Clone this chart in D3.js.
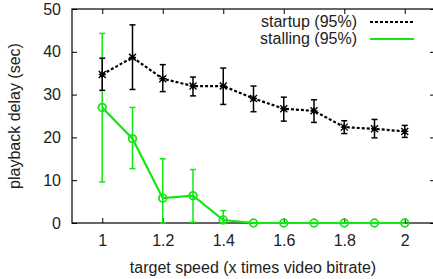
<!DOCTYPE html>
<html lang="en">
<head>
<meta charset="UTF-8">
<title>Playback delay vs target speed</title>
<style>
  html, body { margin: 0; padding: 0; background: #fff; overflow: hidden; }
  svg { display: block; }
  text { font-family: "Liberation Sans", Arial, sans-serif; fill: #222; }
  .tick text { font-size: 16px; fill: #222; }
</style>
<script src="https://d3js.org/d3.v7.min.js"></script>
</head>
<body>
<svg width="433" height="279"></svg>
<script>
// data
var speeds = [1, 1.1, 1.2, 1.3, 1.4, 1.5, 1.6, 1.7, 1.8, 1.9, 2];
var startupMean = [34.7, 38.7, 33.7, 32.0, 32.0, 29.1, 26.7, 26.2, 22.4, 22.0, 21.4];
var startupLow  = [31.0, 31.2, 30.7, 29.7, 27.7, 26.0, 23.8, 23.5, 20.9, 19.9, 20.0];
var startupHigh = [38.5, 46.3, 37.0, 34.1, 36.2, 32.0, 29.4, 28.8, 23.9, 24.2, 22.8];
var stallMean = [27.0, 19.7, 5.8, 6.4, 0.7, 0, 0, 0, 0, 0, 0];
var stallLow  = [9.6, 12.7, 0, 0.2, 0, 0, 0, 0, 0, 0, 0];
var stallHigh = [44.3, 27.0, 15.0, 12.5, 2.9, 0, 0, 0, 0, 0, 0];
var xTicks = [1, 1.2, 1.4, 1.6, 1.8, 2];
var yTicks = [0, 10, 20, 30, 40, 50];

var svg = d3.select("svg");
var plotL = 72, plotR = 435, plotT = 9, plotB = 223;
var green = "#14e614";

var x = d3.scaleLinear().domain([0.9, 2.1]).range([plotL, plotR]);
var y = d3.scaleLinear().domain([0, 50]).range([plotB, plotT]);

// frame
svg.append("rect")
    .attr("x", plotL).attr("y", plotT)
    .attr("width", plotR - plotL).attr("height", plotB - plotT)
    .attr("fill", "none").attr("stroke", "#000").attr("stroke-width", 1.2);

// axes with inward ticks
var gx = svg.append("g").attr("transform", "translate(0," + plotB + ")")
    .call(d3.axisBottom(x).tickValues(xTicks).tickSizeInner(-5).tickSizeOuter(0).tickPadding(12).tickFormat(d3.format("")));
var gxt = svg.append("g").attr("transform", "translate(0," + plotT + ")")
    .call(d3.axisTop(x).tickValues(xTicks).tickSizeInner(-5).tickSizeOuter(0).tickFormat(""));
var gy = svg.append("g").attr("transform", "translate(" + plotL + ",0)")
    .call(d3.axisLeft(y).tickValues(yTicks).tickSizeInner(-5).tickSizeOuter(0).tickPadding(11));
var gyr = svg.append("g").attr("transform", "translate(" + plotR + ",0)")
    .call(d3.axisRight(y).tickValues(yTicks).tickSizeInner(-5).tickSizeOuter(0).tickFormat(""));
[gx, gxt, gy, gyr].forEach(function(g) {
    g.select(".domain").remove();
    g.selectAll(".tick line").attr("stroke", "#000");
});

// axis titles
svg.append("text")
    .attr("x", 253).attr("y", 273)
    .attr("text-anchor", "middle").attr("font-size", 16)
    .text("target speed (x times video bitrate)");
svg.append("text")
    .attr("transform", "translate(20," + ((plotT + plotB) / 2) + ") rotate(-90)")
    .attr("text-anchor", "middle").attr("font-size", 16)
    .text("playback delay (sec)");

function drawSeries(means, lows, highs, color, dash, marker) {
    var g = svg.append("g");
    var pts = speeds.map(function(s, i) { return {x: s, m: means[i], lo: lows[i], hi: highs[i]}; });

    // error bars
    pts.filter(function(d) { return d.hi > d.lo; }).forEach(function(d) {
        var cx = x(d.x);
        g.append("line").attr("x1", cx).attr("x2", cx).attr("y1", y(d.lo)).attr("y2", y(d.hi))
            .attr("stroke", color).attr("stroke-width", 1.5);
        [d.lo, d.hi].forEach(function(v) {
            g.append("line").attr("x1", cx - 3).attr("x2", cx + 3).attr("y1", y(v)).attr("y2", y(v))
                .attr("stroke", color).attr("stroke-width", 1.5);
        });
    });

    g.append("path").datum(pts)
        .attr("d", d3.line().x(function(d) { return x(d.x); }).y(function(d) { return y(d.m); }))
        .attr("fill", "none").attr("stroke", color).attr("stroke-width", 2.2)
        .attr("stroke-dasharray", dash);

    pts.forEach(function(d) {
        var cx = x(d.x), cy = y(d.m);
        if (marker === "star") {
            var s = 3.5;
            g.append("path")
                .attr("d", "M" + (cx - s) + "," + (cy - s) + "L" + (cx + s) + "," + (cy + s) +
                           "M" + (cx - s) + "," + (cy + s) + "L" + (cx + s) + "," + (cy - s) +
                           "M" + (cx - s) + "," + cy + "L" + (cx + s) + "," + cy +
                           "M" + cx + "," + (cy - s) + "L" + cx + "," + (cy + s))
                .attr("stroke", color).attr("stroke-width", 1.4);
        } else {
            g.append("circle").attr("cx", cx).attr("cy", cy).attr("r", 3.8)
                .attr("fill", "none").attr("stroke", color).attr("stroke-width", 1.8);
        }
    });
}

drawSeries(stallMean, stallLow, stallHigh, green, null, "circle");
drawSeries(startupMean, startupLow, startupHigh, "#000", "3,2", "star");

// legend
var legend = [
    {label: "startup (95%)", color: "#000", dash: "3,2", y: 22},
    {label: "stalling (95%)", color: green, dash: null, y: 39}
];
legend.forEach(function(l) {
    svg.append("text").attr("x", 357).attr("y", l.y + 5)
        .attr("text-anchor", "end").attr("font-size", 16).text(l.label);
    svg.append("line").attr("x1", 370).attr("x2", 414).attr("y1", l.y).attr("y2", l.y)
        .attr("stroke", l.color).attr("stroke-width", 2.2).attr("stroke-dasharray", l.dash);
});
</script>
</body>
</html>
